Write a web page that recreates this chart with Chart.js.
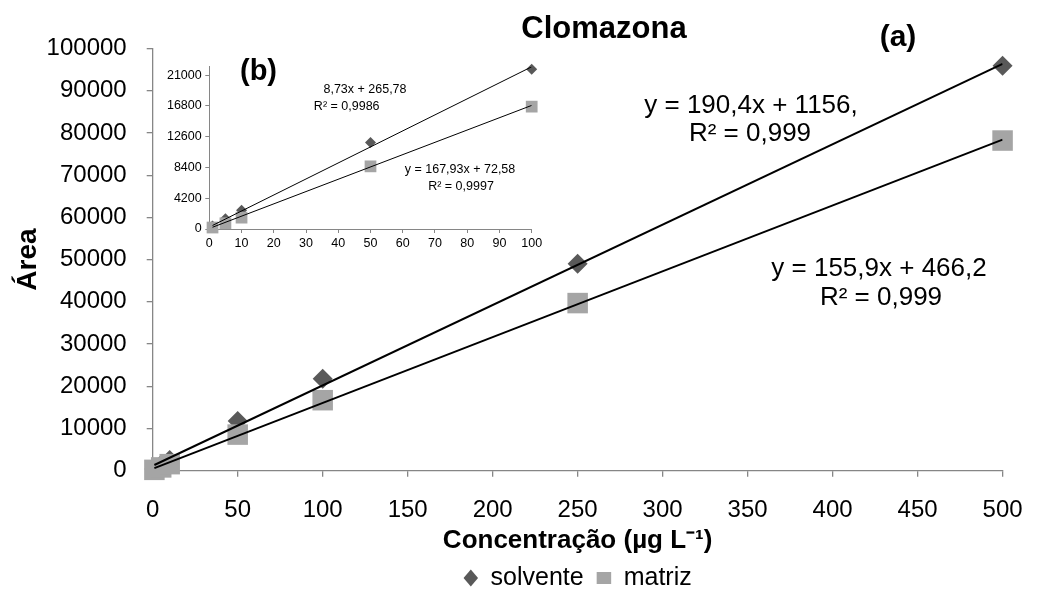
<!DOCTYPE html>
<html lang="pt">
<head>
<meta charset="utf-8">
<title>Clomazona</title>
<script src="https://cdn.jsdelivr.net/npm/chart.js@4.4.1/dist/chart.umd.min.js"></script>
<style>
  html, body { margin: 0; padding: 0; background: #fff; overflow: hidden; }
  #wrap { position: relative; width: 1042px; height: 590px; }
  #main { position: absolute; left: 0; top: 0; }
  #inset { position: absolute; left: 150px; top: 50px; }
</style>
</head>
<body>
<div id="wrap">
  <canvas id="main" width="1042" height="590"></canvas>
  <canvas id="inset" width="400" height="210"></canvas>
</div>
<script>
// Calibration curve for clomazone: peak area vs concentration (ug/L)
const concentrations = [1, 5, 10, 50, 100, 250, 500];
const solventeArea = [400, 1400, 2550, 11800, 21800, 49000, 95900];
const matrizArea = [200, 780, 1550, 8550, 16700, 39700, 78200];

// low range (0-100) shown in the small chart
const insetConcentrations = [1, 5, 10, 50, 100];
const insetSolventeArea = [400, 1400, 2550, 11800, 21800];
const insetMatrizArea = [200, 780, 1550, 8550, 16700];

// linear fits [slope, intercept]
const solventeFit = [190.4, 1156];
const matrizFit = [155.9, 466.2];
const insetSolventeFit = [218.73, 265.78];
const insetMatrizFit = [167.93, 72.58];

// axis ticks
const xTicks = [0, 50, 100, 150, 200, 250, 300, 350, 400, 450, 500];
const yTicks = [0, 10000, 20000, 30000, 40000, 50000, 60000, 70000, 80000, 90000, 100000];
const insetXTicks = [0, 10, 20, 30, 40, 50, 60, 70, 80, 90, 100];
const insetYTicks = [0, 4200, 8400, 12600, 16800, 21000];

const FONT = '"Liberation Sans", Arial, sans-serif';
const AXIS_GRAY = '#868686';
const SOLVENTE_COLOR = '#595959';
const MATRIZ_COLOR = '#a5a5a5';

Chart.defaults.font.family = FONT;
Chart.defaults.color = '#000';

const points = (xs, ys) => xs.map((x, i) => ({ x, y: ys[i] }));
const fitLine = (fit, x0, x1) => [
  { x: x0, y: fit[0] * x0 + fit[1] },
  { x: x1, y: fit[0] * x1 + fit[1] }
];
const fixedTicks = values => scale => { scale.ticks = values.map(v => ({ value: v })); };

// free text (title, panel letters, regression equations)
function notesPlugin(id, notes) {
  return {
    id,
    afterDraw(chart) {
      const ctx = chart.ctx;
      ctx.save();
      ctx.fillStyle = '#000';
      ctx.textAlign = 'center';
      ctx.textBaseline = 'middle';
      notes.forEach(n => {
        ctx.font = n.font;
        ctx.fillText(n.text, n.x, n.y);
      });
      ctx.restore();
    }
  };
}

// ---- main chart, 0-500 ----
new Chart(document.getElementById('main'), {
  type: 'scatter',
  data: {
    datasets: [
      { label: 'fit solvente', type: 'line', data: fitLine(solventeFit, 1, 500), borderColor: '#000', borderWidth: 2, pointRadius: 0, fill: false },
      { label: 'fit matriz', type: 'line', data: fitLine(matrizFit, 1, 500), borderColor: '#000', borderWidth: 2, pointRadius: 0, fill: false },
      { label: 'matriz', data: points(concentrations, matrizArea), pointStyle: 'rect', pointRadius: 14.5, pointHoverRadius: 14.5, backgroundColor: MATRIZ_COLOR, borderColor: MATRIZ_COLOR, borderWidth: 0, clip: false },
      { label: 'solvente', data: points(concentrations, solventeArea), pointStyle: 'rectRot', pointRadius: 10, pointHoverRadius: 10, backgroundColor: SOLVENTE_COLOR, borderColor: SOLVENTE_COLOR, borderWidth: 0, clip: false }
    ]
  },
  options: {
    responsive: false,
    animation: false,
    layout: { padding: { top: 48.5, right: 23, bottom: -10.5, left: 0 } },
    scales: {
      x: {
        type: 'linear', min: 0, max: 500,
        afterBuildTicks: fixedTicks(xTicks),
        afterFit: s => { s.height = 81.8; },
        grid: { drawOnChartArea: false, tickLength: 6, color: AXIS_GRAY, lineWidth: 1.3 },
        border: { color: AXIS_GRAY, width: 1.3 },
        ticks: { font: { size: 24 }, padding: 19.4, maxRotation: 0, autoSkip: false, callback: v => String(v) },
        title: { display: true, text: 'Concentração (µg L⁻¹)', font: { size: 26, weight: 'bold' }, padding: { top: 0, bottom: -4.1 } }
      },
      y: {
        type: 'linear', min: 0, max: 100000,
        afterBuildTicks: fixedTicks(yTicks),
        afterFit: s => { s.width = 152.7; },
        grid: { drawOnChartArea: false, tickLength: 6, color: AXIS_GRAY, lineWidth: 1.3 },
        border: { color: AXIS_GRAY, width: 1.3 },
        ticks: { font: { size: 24 }, padding: 20, callback: v => String(v) },
        title: { display: true, text: 'Área', font: { size: 28, weight: 'bold' }, padding: { top: 11, bottom: 0 } }
      }
    },
    plugins: {
      legend: {
        position: 'bottom',
        fullSize: false,
        labels: {
          filter: item => item.datasetIndex >= 2,
          sort: (a, b) => b.datasetIndex - a.datasetIndex,
          usePointStyle: true,
          boxHeight: 12,
          pointStyleWidth: 14.5,
          padding: 13,
          color: '#000',
          font: { size: 25 }
        }
      },
      tooltip: { enabled: false }
    }
  },
  plugins: [notesPlugin('mainNotes', [
    { text: 'Clomazona', x: 604, y: 29, font: 'bold 31px ' + FONT },
    { text: '(a)', x: 898, y: 38, font: 'bold 30px ' + FONT },
    { text: 'y = 190,4x + 1156,', x: 751, y: 106, font: '26px ' + FONT },
    { text: 'R² = 0,999', x: 750, y: 134, font: '26px ' + FONT },
    { text: 'y = 155,9x + 466,2', x: 879, y: 269, font: '26px ' + FONT },
    { text: 'R² = 0,999', x: 881, y: 298, font: '26px ' + FONT }
  ])]
});

// ---- small chart, 0-100 ----
new Chart(document.getElementById('inset'), {
  type: 'scatter',
  data: {
    datasets: [
      { label: 'fit solvente', type: 'line', data: fitLine(insetSolventeFit, 1, 100), borderColor: '#000', borderWidth: 1, pointRadius: 0, fill: false },
      { label: 'fit matriz', type: 'line', data: fitLine(insetMatrizFit, 1, 100), borderColor: '#000', borderWidth: 1, pointRadius: 0, fill: false },
      { label: 'matriz', data: points(insetConcentrations, insetMatrizArea), pointStyle: 'rect', pointRadius: 8.3, pointHoverRadius: 8.3, backgroundColor: MATRIZ_COLOR, borderWidth: 0, clip: false },
      { label: 'solvente', data: points(insetConcentrations, insetSolventeArea), pointStyle: 'rectRot', pointRadius: 5.5, pointHoverRadius: 5.5, backgroundColor: SOLVENTE_COLOR, borderWidth: 0, clip: false }
    ]
  },
  options: {
    responsive: false,
    animation: false,
    layout: { padding: { top: 16.7, right: 18.3, bottom: 0, left: 0 } },
    scales: {
      x: {
        type: 'linear', min: 0, max: 100,
        afterBuildTicks: fixedTicks(insetXTicks),
        afterFit: s => { s.height = 31; },
        grid: { drawOnChartArea: false, tickLength: 4, color: AXIS_GRAY },
        border: { color: AXIS_GRAY },
        ticks: { font: { size: 12.5 }, padding: 3.5, maxRotation: 0, autoSkip: false, callback: v => String(v) }
      },
      y: {
        type: 'linear', min: 0, max: 22150,
        afterBuildTicks: fixedTicks(insetYTicks),
        afterFit: s => { s.width = 59.3; },
        grid: { drawOnChartArea: false, tickLength: 4, color: AXIS_GRAY },
        border: { color: AXIS_GRAY },
        ticks: { font: { size: 12.5 }, padding: 3.6, callback: v => String(v) }
      }
    },
    plugins: {
      legend: { display: false },
      tooltip: { enabled: false }
    }
  },
  plugins: [notesPlugin('insetNotes', [
    { text: '(b)', x: 108.5, y: 21.5, font: 'bold 29px ' + FONT },
    { text: '8,73x + 265,78', x: 215, y: 39.3, font: '12.5px ' + FONT },
    { text: 'R² = 0,9986', x: 196.7, y: 56.7, font: '12.5px ' + FONT },
    { text: 'y = 167,93x + 72,58', x: 310, y: 120, font: '12.5px ' + FONT },
    { text: 'R² = 0,9997', x: 311, y: 136.7, font: '12.5px ' + FONT }
  ])]
});
</script>
</body>
</html>
